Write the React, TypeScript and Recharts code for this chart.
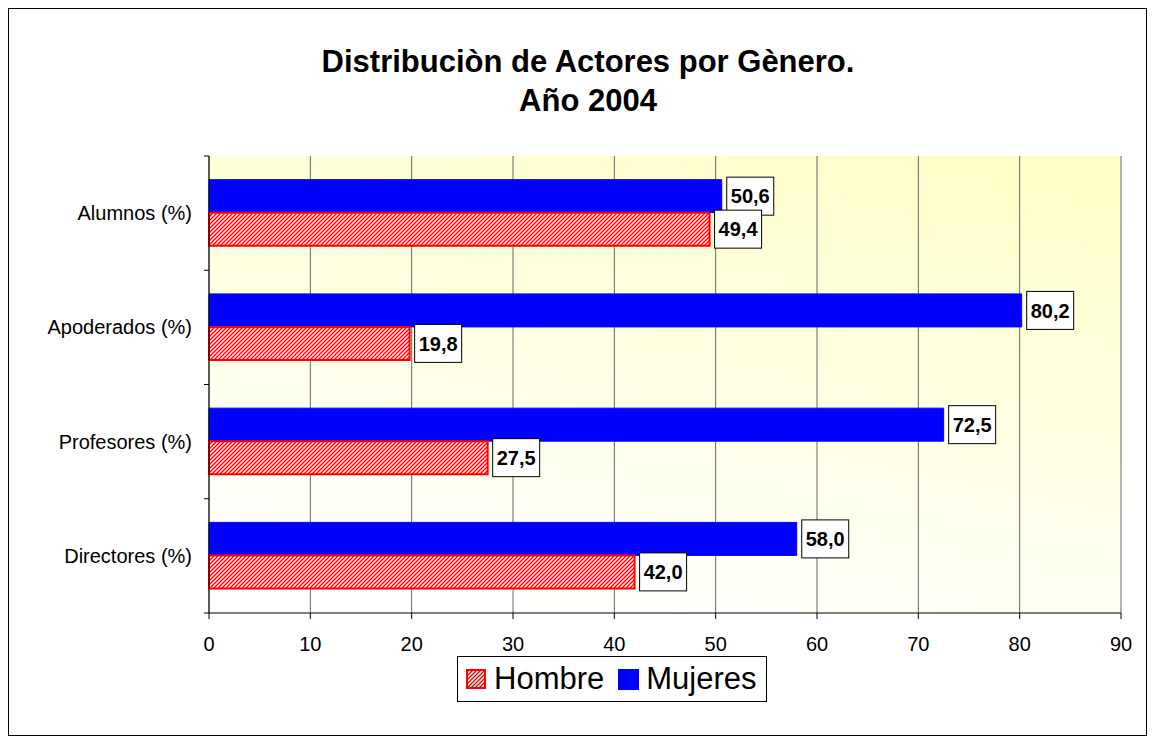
import { BarChart, Bar, XAxis, YAxis, CartesianGrid, LabelList } from 'recharts';

const categories = ['Alumnos (%)', 'Apoderados (%)', 'Profesores (%)', 'Directores (%)'];
const hombre = [49.4, 19.8, 27.5, 42.0];
const mujeres = [50.6, 80.2, 72.5, 58.0];
const xTicks = [0, 10, 20, 30, 40, 50, 60, 70, 80, 90];

const data = categories.map((name, i) => ({ name, Hombre: hombre[i], Mujeres: mujeres[i] }));

const FONT = "Arial, 'Liberation Sans', sans-serif";
const CHART_W = 1137;
const CHART_H = 726;
const MARGIN = { top: 147, right: 25, left: 0, bottom: 82 };
const PLOT_H = CHART_H - MARGIN.top - MARGIN.bottom - 40;
const BAND = PLOT_H / categories.length;

const fmt = (v: number) => v.toFixed(1).replace('.', ',');

const CategoryTick = (props: any) => {
  const { x, y, payload, index } = props;
  const half = BAND / 2;
  return (
    <g>
      <text x={x - 17} y={y} dy="0.35em" textAnchor="end" fontSize={20} fill="#000" fontFamily={FONT}>
        {payload.value}
      </text>
      <line x1={x - 5} x2={x} y1={y - half} y2={y - half} stroke="#000" />
      {index === categories.length - 1 && (
        <line x1={x - 5} x2={x} y1={y + half} y2={y + half} stroke="#000" />
      )}
    </g>
  );
};

const ValueLabel = (props: any) => {
  const { x, y, width, height, value } = props;
  const bx = x + width + 5;
  const cy = y + height / 2;
  return (
    <g>
      <rect x={bx} y={cy - 19} width={47} height={38} fill="#fff" stroke="#000" strokeWidth={1} />
      <text x={bx + 23.5} y={cy} dy="0.36em" textAnchor="middle" fontSize={20} fontWeight="bold" fill="#000" fontFamily={FONT}>
        {fmt(value)}
      </text>
    </g>
  );
};

function Legend() {
  return (
    <div
      style={{
        position: 'absolute',
        left: 448,
        top: 647,
        width: 308,
        height: 44,
        border: '1px solid #000',
        background: '#fff',
        display: 'flex',
        alignItems: 'center',
        fontFamily: FONT,
        fontSize: 31,
        color: '#000',
      }}
    >
      <svg width={20} height={20} style={{ marginLeft: 8, marginRight: 8 }}>
        <defs>
          <pattern id="hatchIcon" patternUnits="userSpaceOnUse" width={4} height={4}>
            <rect width={4} height={4} fill="#fff" />
            <path d="M-1,1 L1,-1 M0,4 L4,0 M3,5 L5,3" stroke="#ff0000" strokeWidth={1.4} />
          </pattern>
        </defs>
        <rect x={1} y={1} width={18} height={18} fill="url(#hatchIcon)" stroke="#ff0000" strokeWidth={2} />
      </svg>
      <span>Hombre</span>
      <svg width={21} height={21} style={{ marginLeft: 14, marginRight: 7 }}>
        <rect x={0} y={0} width={21} height={21} fill="#0000ff" />
      </svg>
      <span>Mujeres</span>
    </div>
  );
}

export default function App() {
  return (
    <div
      style={{
        position: 'relative',
        width: CHART_W,
        height: CHART_H,
        border: '1px solid #000',
        background: '#fff',
        fontFamily: FONT,
      }}
    >
      <div
        style={{
          position: 'absolute',
          left: 579,
          top: 33,
          transform: 'translateX(-50%)',
          textAlign: 'center',
          fontWeight: 'bold',
          fontSize: 31,
          lineHeight: '39px',
          whiteSpace: 'nowrap',
          color: '#000',
        }}
      >
        Distribuciòn de Actores por Gènero.
        <br />
        Año 2004
      </div>
      <BarChart
        width={CHART_W}
        height={CHART_H}
        data={data}
        layout="vertical"
        margin={MARGIN}
        barCategoryGap="20.7%"
        barGap={0}
      >
        <defs>
          <linearGradient id="plotBg" x1="0.3" y1="1" x2="0.7" y2="0">
            <stop offset="0%" stopColor="#ffffff" />
            <stop offset="100%" stopColor="#ffffcc" />
          </linearGradient>
          <pattern id="hatch" patternUnits="userSpaceOnUse" width={4} height={4}>
            <rect width={4} height={4} fill="#fff" />
            <path d="M-1,1 L1,-1 M0,4 L4,0 M3,5 L5,3" stroke="#ff0000" strokeWidth={1.4} />
          </pattern>
        </defs>
        <CartesianGrid horizontal={false} vertical stroke="#666" fill="url(#plotBg)" />
        <XAxis
          type="number"
          domain={[0, 90]}
          ticks={xTicks}
          height={40}
          stroke="#000"
          tickSize={6}
          tickMargin={18}
          tick={{ fill: '#000', fontSize: 20, fontFamily: FONT }}
        />
        <XAxis
          xAxisId="top"
          orientation="top"
          type="number"
          domain={[0, 90]}
          height={0}
          tick={false}
          tickLine={false}
          axisLine={{ stroke: '#808080', strokeWidth: 2 }}
        />
        <YAxis
          type="category"
          dataKey="name"
          width={200}
          stroke="#000"
          tickLine={false}
          tickSize={0}
          tickMargin={0}
          tick={<CategoryTick />}
        />
        <YAxis
          yAxisId="right"
          orientation="right"
          type="category"
          dataKey="name"
          width={0}
          tick={false}
          tickLine={false}
          axisLine={{ stroke: '#808080', strokeWidth: 2 }}
        />
        <Bar dataKey="Mujeres" fill="#0000ff" stroke="#0000ee" strokeWidth={1} isAnimationActive={false}>
          <LabelList dataKey="Mujeres" content={<ValueLabel />} />
        </Bar>
        <Bar dataKey="Hombre" fill="url(#hatch)" stroke="#ff0000" strokeWidth={2} isAnimationActive={false}>
          <LabelList dataKey="Hombre" content={<ValueLabel />} />
        </Bar>
      </BarChart>
      <Legend />
    </div>
  );
}
